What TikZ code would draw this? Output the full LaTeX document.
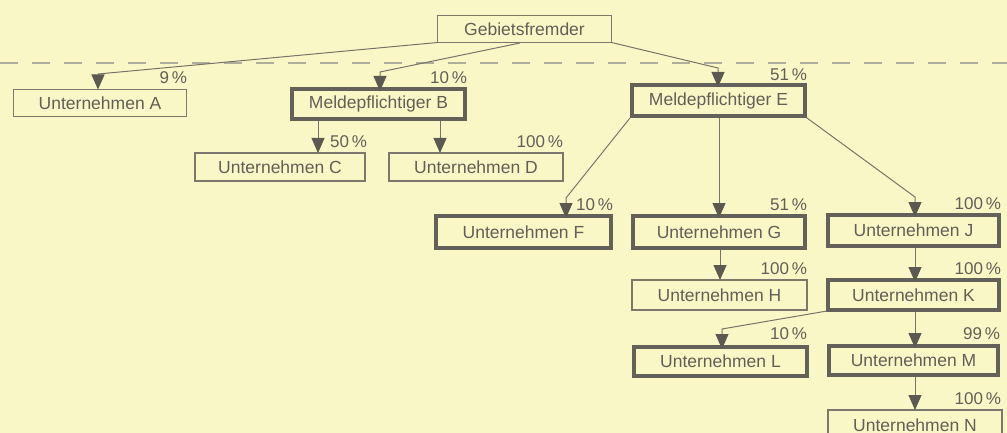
\documentclass[tikz,border=0pt]{standalone}
\usepackage{fontspec}
\setmainfont{Liberation Sans}
\usetikzlibrary{arrows.meta,calc}
\definecolor{bgc}{RGB}{250,247,198}
\definecolor{txtc}{RGB}{98,94,88}
\definecolor{boxc}{RGB}{100,96,90}
\definecolor{thinc}{RGB}{125,120,110}
\definecolor{linec}{RGB}{120,115,106}
\definecolor{arrc}{RGB}{92,88,82}
\definecolor{dashc}{RGB}{175,173,156}
\begin{document}
\begin{tikzpicture}[x=1pt,y=-1pt,
  every node/.style={inner sep=0pt,outer sep=0pt},
  basebox/.style={text=txtc,font=\fontsize{17.5}{20}\selectfont},
  thinbox/.style={basebox,draw=thinc,line width=1.2pt},
  heavybox/.style={basebox,draw=boxc,line width=4pt},
  pct/.style={text=txtc,font=\fontsize{17}{20}\selectfont,anchor=east,text height=12pt,text depth=0pt},
  conn/.style={draw=linec,line width=1pt,-{Triangle[width=13pt,length=15pt,color=arrc]}}
]
\useasboundingbox (0,0) rectangle (1007,433);
\fill[bgc] (0,0) rectangle (1007,433);

% dashed border line
\draw[dashc,line width=1.5pt,dash pattern=on 18pt off 14pt] (0,63) -- (1007,63);

% boxes
\node[thinbox,minimum width=174pt,minimum height=27pt] (geb) at (524.5,29) {Gebietsfremder};
\node[thinbox,minimum width=173pt,minimum height=27pt] (a) at (100,103) {Unternehmen A};
\node[heavybox,minimum width=173pt,minimum height=30pt] (b) at (378.5,104) {Meldepflichtiger B};
\node[heavybox,minimum width=173pt,minimum height=31pt] (e) at (718.5,100.5) {Meldepflichtiger E};
\node[thinbox,minimum width=170pt,minimum height=28pt] (c) at (280,167) {Unternehmen C};
\node[thinbox,minimum width=174pt,minimum height=28pt] (d) at (476,167) {Unternehmen D};
\node[heavybox,minimum width=175pt,minimum height=32pt] (f) at (523.5,232) {Unternehmen F};
\node[heavybox,minimum width=172pt,minimum height=32pt] (g) at (719,232) {Unternehmen G};
\node[heavybox,minimum width=171pt,minimum height=31pt] (j) at (913.5,230.5) {Unternehmen J};
\node[thinbox,minimum width=175pt,minimum height=30pt] (h) at (719.5,295) {Unternehmen H};
\node[heavybox,minimum width=171pt,minimum height=30pt] (k) at (913.5,295) {Unternehmen K};
\node[heavybox,minimum width=173pt,minimum height=29pt] (l) at (720.5,361.5) {Unternehmen L};
\node[heavybox,minimum width=169pt,minimum height=29pt] (m) at (913.5,360.5) {Unternehmen M};
\node[thinbox,minimum width=174pt,minimum height=30pt] (n) at (915,425) {Unternehmen N};

% bend points and connector start points
\coordinate (ka) at (98,74);
\coordinate (gb) at (520,43);
\coordinate (kb) at (380,72);
\coordinate (ke) at (718,68);
\coordinate (kf) at (566,198);
\coordinate (kj) at (915,197);
\coordinate (kl) at (722,329);
\coordinate (sc) at (318,121);
\coordinate (sd) at (440,121);
\coordinate (sf) at (630,118);
\coordinate (sg) at (719,118);
\coordinate (sj) at (807,118);
\coordinate (sh) at (720,250);
\coordinate (sk) at (915,248);
\coordinate (sl) at (827,311);
\coordinate (sm) at (915,312);
\coordinate (sn) at (915,377);

% connectors
\draw[conn] (geb.south west) -- (ka) -- (ka |- a.north);
\draw[conn] (gb) -- (kb) -- ([yshift=-2pt]kb |- b.north);
\draw[conn] (geb.south east) -- (ke) -- ([yshift=-2pt]ke |- e.north);
\draw[conn] (sc) -- (sc |- c.north);
\draw[conn] (sd) -- (sd |- d.north);
\draw[conn] (sf) -- (kf) -- ([yshift=-2pt]kf |- f.north);
\draw[conn] (sg) -- ([yshift=-2pt]sg |- g.north);
\draw[conn] (sj) -- (kj) -- ([yshift=-2pt]kj |- j.north);
\draw[conn] (sh) -- (sh |- h.north);
\draw[conn] (sk) -- ([yshift=-2pt]sk |- k.north);
\draw[conn] (sl) -- (kl) -- ([yshift=-2pt]kl |- l.north);
\draw[conn] (sm) -- ([yshift=-2pt]sm |- m.north);
\draw[conn] (sn) -- (sn |- n.north);

% percentage labels
\node[pct] (pa) at (187,78) {9\,\%};
\node[pct] (pb) at (467,78) {10\,\%};
\node[pct] (pe) at (807,75) {51\,\%};
\node[pct] (pc) at (367,142) {50\,\%};
\node[pct] (pd) at (563,142) {100\,\%};
\node[pct] (pf) at (613,205) {10\,\%};
\node[pct] (pg) at (807,204) {51\,\%};
\node[pct] (pj) at (1001,203) {100\,\%};
\node[pct] (ph) at (807,268) {100\,\%};
\node[pct] (pk) at (1001,268) {100\,\%};
\node[pct] (pl) at (807,333) {10\,\%};
\node[pct] (pm) at (1000,333) {99\,\%};
\node[pct] (pn) at (1001,398) {100\,\%};
\end{tikzpicture}
\end{document}
